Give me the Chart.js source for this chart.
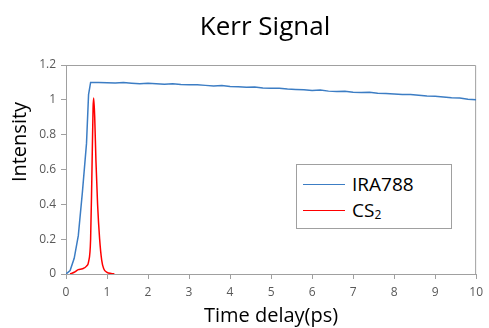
<!DOCTYPE html>
<html>
<head>
<meta charset="utf-8">
<script src="https://cdn.jsdelivr.net/npm/chart.js@4"></script>
<style>
  body { margin: 0; background: #fff; }
  #wrap { position: relative; width: 489px; height: 328px; font-family: 'Open Sans', sans-serif; }
  #title { position: absolute; left: 265px; top: 12px; transform: translateX(-50%); font-size: 26px; line-height: 26px; white-space: nowrap; color: #000; }
  #ytitle { position: absolute; left: 19px; top: 142px; width: 120px; height: 20px; line-height: 20px; margin-left: -60px; margin-top: -10px; transform: rotate(-90deg); text-align: center; font-size: 20px; color: #000; }
  #legend { position: absolute; left: 296px; top: 164px; width: 154px; height: 63px; border: 1px solid #a0a0a0; background: #fff; }
  .row { position: absolute; left: 6px; height: 26px; display: flex; align-items: center; font-size: 19px; color: #000; white-space: nowrap; }
  .row .swatch { width: 42px; height: 0; border-top: 1.5px solid; margin-right: 7px; }
  .row sub { font-size: 12px; vertical-align: -2px; }
</style>
</head>
<body>
<div id="wrap">
  <canvas id="chart" width="489" height="328"></canvas>
  <div id="title">Kerr Signal</div>
  <div id="ytitle">Intensity</div>
  <div id="legend"></div>
</div>
<script>
const seriesNames = ['IRA788', 'CS<sub>2</sub>'];
const seriesColors = ['#3c7dc4', '#ff0000'];

const iraTime = [0, 0.1, 0.2, 0.3, 0.4, 0.5, 0.55, 0.6, 0.8, 1.0, 1.2, 1.4, 1.6, 1.8, 2.0, 2.2, 2.4, 2.6, 2.8,
  3.0, 3.2, 3.4, 3.6, 3.8, 4.0, 4.2, 4.4, 4.6, 4.8, 5.0, 5.2, 5.4, 5.6, 5.8, 6.0, 6.2, 6.4, 6.6, 6.8,
  7.0, 7.2, 7.4, 7.6, 7.8, 8.0, 8.2, 8.4, 8.6, 8.8, 9.0, 9.2, 9.4, 9.6, 9.8, 10.0];
const iraSignal = [0, 0.02, 0.09, 0.22, 0.47, 0.75, 1.03, 1.10, 1.10, 1.098, 1.097, 1.099, 1.095, 1.092, 1.095, 1.093, 1.09, 1.092, 1.088,
  1.086, 1.087, 1.083, 1.08, 1.082, 1.076, 1.075, 1.072, 1.074, 1.068, 1.066, 1.067, 1.062, 1.06, 1.058, 1.054, 1.056, 1.05, 1.048, 1.049,
  1.044, 1.042, 1.043, 1.038, 1.036, 1.034, 1.03, 1.031, 1.026, 1.022, 1.02, 1.016, 1.012, 1.01, 1.004, 1.0];

const cs2Time = [0.1, 0.2, 0.3, 0.4, 0.5, 0.55, 0.6, 0.63, 0.66, 0.675, 0.7, 0.73, 0.77, 0.82, 0.87, 0.92, 1.0, 1.1, 1.18];
const cs2Signal = [0, 0.01, 0.025, 0.03, 0.045, 0.07, 0.2, 0.55, 0.95, 1.01, 0.9, 0.65, 0.4, 0.2, 0.08, 0.03, 0.01, 0.003, 0];

const xTicks = [0, 10, 1];
const yTicks = [0, 1.2, 0.2];

const axisGray = '#a0a0a0';
const font = 'Open Sans';

const plotBorder = {
  id: 'plotBorder',
  beforeDatasetsDraw(chart) {
    const a = chart.chartArea;
    const c = chart.ctx;
    c.save();
    c.strokeStyle = axisGray;
    c.lineWidth = 1;
    c.beginPath();
    c.moveTo(a.left, a.top + 0.5);
    c.lineTo(a.right - 0.5, a.top + 0.5);
    c.lineTo(a.right - 0.5, a.bottom);
    c.stroke();
    c.restore();
  }
};

const chart = new Chart(document.getElementById('chart'), {
  type: 'line',
  data: {
    datasets: [
      {
        label: 'IRA788',
        data: iraTime.map((t, i) => ({ x: t, y: iraSignal[i] })),
        borderColor: seriesColors[0],
        borderWidth: 1.5,
        pointRadius: 0,
        tension: 0
      },
      {
        label: 'CS2',
        data: cs2Time.map((t, i) => ({ x: t, y: cs2Signal[i] })),
        borderColor: seriesColors[1],
        borderWidth: 1.5,
        pointRadius: 0,
        cubicInterpolationMode: 'monotone'
      }
    ]
  },
  options: {
    responsive: false,
    animation: false,
    layout: { padding: { top: 65, right: 4, left: 0, bottom: 0 } },
    plugins: {
      legend: { display: false },
      tooltip: { enabled: false }
    },
    scales: {
      x: {
        type: 'linear',
        min: xTicks[0],
        max: xTicks[1],
        afterFit: s => { s.height = 54; },
        ticks: { stepSize: xTicks[2], autoSkip: false, maxRotation: 0, padding: 6, color: '#595959', font: { family: font, size: 12 } },
        grid: { drawOnChartArea: false, drawTicks: true, tickLength: 5, color: axisGray },
        border: { color: axisGray },
        title: { display: true, text: 'Time delay(ps)', color: '#000', font: { family: font, size: 20 }, padding: 0 }
      },
      y: {
        min: yTicks[0],
        max: yTicks[1],
        afterFit: s => { s.width = 66; },
        ticks: { stepSize: yTicks[2], padding: 5, color: '#595959', font: { family: font, size: 12 },
          callback: v => String(+v.toFixed(1)) },
        grid: { drawOnChartArea: false, drawTicks: true, tickLength: 5, color: axisGray },
        border: { color: axisGray }
      }
    }
  },
  plugins: [plotBorder]
});

const legend = document.getElementById('legend');
chart.data.datasets.forEach((ds, i) => {
  const row = document.createElement('div');
  row.className = 'row';
  row.style.top = (6 + i * 26) + 'px';
  row.innerHTML = `<span class="swatch" style="border-color:${ds.borderColor}"></span><span>${seriesNames[i]}</span>`;
  legend.appendChild(row);
});
</script>
</body>
</html>
